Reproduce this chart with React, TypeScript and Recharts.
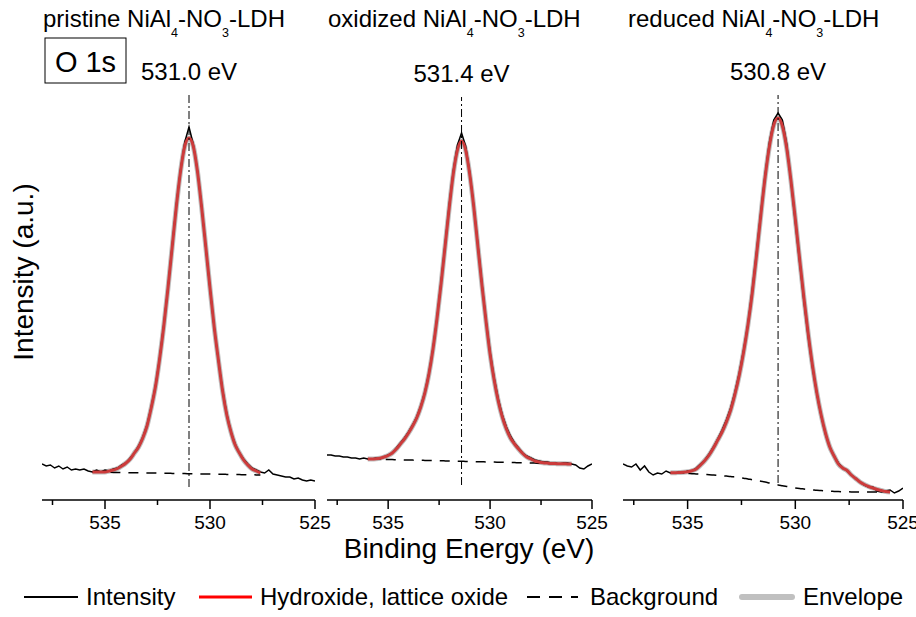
import React from 'react';
import { LineChart, Line, XAxis, YAxis, ReferenceLine } from 'recharts';

// binding energy grid (eV), shared by all three spectra
const energy = [
  538, 537.8, 537.6, 537.4, 537.2, 537, 536.8, 536.6, 536.4, 536.2,
  536, 535.8, 535.6, 535.4, 535.2, 535, 534.8, 534.6, 534.4, 534.2,
  534, 533.8, 533.6, 533.4, 533.2, 533, 532.8, 532.6, 532.4, 532.2,
  532, 531.8, 531.6, 531.4, 531.2, 531, 530.8, 530.6, 530.4, 530.2,
  530, 529.8, 529.6, 529.4, 529.2, 529, 528.8, 528.6, 528.4, 528.2,
  528, 527.8, 527.6, 527.4, 527.2, 527, 526.8, 526.6, 526.4, 526.2,
  526, 525.8, 525.6, 525.4, 525.2, 525
];

// pristine
const pristineRaw = [
  36, 34, 35, 32, 34, 31, 33, 30, 31, 30,
  31, 29, 28, 30, 28, 30, 29, 31, 32, 35,
  37, 42, 47, 54, 63, 75, 93, 114, 142, 176,
  213, 255, 296, 331, 358, 373, 356, 330, 294, 252,
  211, 172, 139, 110, 86, 68, 56, 47, 41, 36,
  32, 30, 28, 27, 30, 26, 25, 24, 23, 23,
  21, 22, 20, 19, 20, 19
];
const pristineFitStart = 12;
const pristineFit = [
  28, 28, 28, 28, 29, 30, 31.5, 34,
  37, 41, 47, 53, 62, 74, 92, 113, 141, 174,
  212, 253, 294, 329, 354, 362, 354, 329, 293, 253,
  212, 173, 140, 109, 85, 68, 55, 47, 40, 35,
  31, 29, 27
];
const pristineBg = [
  28, 27.9, 27.9, 27.8, 27.7, 27.6, 27.6, 27.5,
  27.4, 27.3, 27.3, 27.2, 27.1, 27, 27, 26.9, 26.8, 26.7,
  26.7, 26.6, 26.5, 26.4, 26.4, 26.3, 26.2, 26.1, 26.1, 26,
  25.9, 25.8, 25.8, 25.7, 25.6, 25.5, 25.5, 25.4, 25.3, 25.2,
  25.2, 25.1, 25
];

// oxidized
const oxidizedRaw = [
  45, 45, 44, 44, 43, 43, 42, 42, 41, 42,
  41, 41, 42, 41, 43, 45, 47, 52, 57, 62,
  68, 75, 83, 94, 108, 127, 152, 183, 219, 257,
  296, 330, 355, 367, 354, 328, 294, 256, 217, 180,
  148, 122, 101, 85, 73, 64, 57, 52, 47, 44,
  42, 40, 39, 38, 38, 37, 37, 36, 37, 37,
  36, 35, 32, 31, 34, 36
];
const oxidizedFitStart = 10;
const oxidizedFit = [
  41, 41, 41.2, 41.8, 43, 44.5, 47, 51, 56, 61,
  67, 74, 82, 93, 107, 126, 151, 182, 217, 255,
  293, 327, 350, 359, 350, 326, 293, 254, 215, 179,
  146, 120, 99, 83, 71, 62, 56, 51, 46.5, 43,
  41, 39, 38, 37.3, 36.9, 36.5, 36.4, 36.3, 36.2, 36.1,
  36
];
const oxidizedBg = [
  41, 40.9, 40.8, 40.7, 40.6, 40.5, 40.4, 40.3, 40.2, 40.1,
  40, 39.9, 39.8, 39.7, 39.6, 39.5, 39.4, 39.3, 39.2, 39.1,
  39, 38.9, 38.8, 38.7, 38.6, 38.5, 38.4, 38.3, 38.2, 38.1,
  38, 37.9, 37.8, 37.7, 37.6, 37.5, 37.4, 37.3, 37.2, 37.1,
  37, 36.9, 36.8, 36.7, 36.6, 36.5, 36.4, 36.3, 36.2, 36.1,
  36
];

// reduced
const reducedRaw = [
  36, 34, 33, 36, 30, 34, 28, 25, 27, 26,
  29, 27, 27, 28, 27, 29, 29, 32, 36, 40,
  46, 53, 61, 70, 80, 92, 108, 127, 150, 176,
  210, 248, 288, 326, 358, 380, 387, 380, 356, 318,
  278, 238, 199, 163, 132, 106, 84, 66, 53, 44,
  37, 32, 29, 25, 22, 18, 15, 13, 13, 9,
  8, 9, 10, 7, 9, 12
];
const reducedFitStart = 11;
const reducedFit = [
  27.2, 27.2, 27.5, 27.8, 28.3, 29.2, 31, 35, 39.5,
  45, 52, 60, 68, 78, 90, 106, 125, 148, 175,
  207, 245, 285, 323, 354, 375, 382, 374, 352, 319,
  281, 241, 202, 166, 134, 107, 85, 67, 53, 44,
  36, 32, 29.5, 25, 21.5, 18, 15.5, 13.5, 12, 10.5,
  9.5, 8.5, 8
];
const reducedBg = [
  27.2, 27.1, 27, 26.8, 26.5, 26.3, 26, 25.8, 25.5,
  25.3, 25, 24.7, 24.3, 23.9, 23.5, 23, 22.5, 21.8, 21,
  20.3, 19.5, 18.8, 18, 17, 16, 15.1, 14.3, 13.5, 12.8,
  12.1, 11.5, 11, 10.5, 10.1, 9.7, 9.4, 9.1, 8.8, 8.6,
  8.4, 8.3, 8.2, 8.1, 8.1, 8, 8, 8, 8, 8,
  8, 8, 8
];

const sampleNames = ['pristine', 'oxidized', 'reduced'];
const peakEnergies = [531.0, 531.4, 530.8];
const energyTicks = [537.5, 535, 532.5, 530, 527.5, 525];
const legendItems = ['Intensity', 'Hydroxide, lattice oxide', 'Background', 'Envelope'];

const FONT = '"Liberation Sans", Arial, Helvetica, sans-serif';

const buildRows = (raw: number[], fit: number[], bg: number[], start: number) =>
  energy.map((e, i) => {
    const k = i - start;
    const inFit = k >= 0 && k < fit.length;
    return {
      e,
      raw: raw[i],
      fit: inFit ? fit[k] : null,
      env: inFit ? fit[k] : null,
      bg: k >= 0 && k < bg.length ? bg[k] : null
    };
  });

const panels = [
  {
    rows: buildRows(pristineRaw, pristineFit, pristineBg, pristineFitStart),
    left: 0, width: 335, margin: { top: 40, right: 20, bottom: 0, left: 42 },
    showY: true, titleX: 43, vline: [13, 405]
  },
  {
    rows: buildRows(oxidizedRaw, oxidizedFit, oxidizedBg, oxidizedFitStart),
    left: 312, width: 300, margin: { top: 40, right: 20, bottom: 0, left: 15 },
    showY: false, titleX: 328, vline: [15, 403]
  },
  {
    rows: buildRows(reducedRaw, reducedFit, reducedBg, reducedFitStart),
    left: 608, width: 308, margin: { top: 40, right: 13, bottom: 0, left: 15 },
    showY: false, titleX: 628, vline: [17, 405]
  }
];

const EnergyTick = (props: any) => {
  const { x, y, payload } = props;
  const major = payload.value % 5 === 0;
  return (
    <g>
      <line x1={x} x2={x} y1={y} y2={y + (major ? 9 : 5)} stroke="#000" strokeWidth={1.5} />
      {major && (
        <text x={x} y={y + 29} textAnchor="middle" fontSize={19} fontFamily={FONT} fill="#000">
          {payload.value}
        </text>
      )}
    </g>
  );
};

const App: React.FC = () => (
  <div
    style={{
      position: 'absolute', left: 0, top: 0, width: 916, height: 617,
      background: '#fff', fontFamily: FONT, overflow: 'hidden'
    }}
  >
    {panels.map((p, idx) => (
      <div key={idx} style={{ position: 'absolute', left: p.left, top: 0 }}>
        <LineChart width={p.width} height={560} data={p.rows} margin={p.margin}>
          <XAxis
            dataKey="e"
            type="number"
            domain={[525, 538]}
            reversed
            allowDataOverflow
            ticks={energyTicks}
            interval={0}
            tick={<EnergyTick />}
            tickLine={false}
            tickSize={0}
            tickMargin={0}
            height={60}
            axisLine={{ stroke: '#000', strokeWidth: 1.5 }}
          />
          <YAxis
            width={0}
            domain={[0, 460]}
            allowDataOverflow
            hide={!p.showY}
            tick={false}
            tickLine={false}
            axisLine={{ stroke: '#000', strokeWidth: 1.5 }}
          />
          <Line dataKey="env" type="monotone" stroke="#c0c0c0" strokeWidth={5} dot={false} activeDot={false} isAnimationActive={false} />
          <Line dataKey="raw" type="linear" stroke="#000" strokeWidth={1.5} dot={false} activeDot={false} isAnimationActive={false} />
          <Line dataKey="bg" type="monotone" stroke="#000" strokeWidth={1.5} strokeDasharray="10 8" dot={false} activeDot={false} isAnimationActive={false} />
          <Line dataKey="fit" type="monotone" stroke="#cc3b3b" strokeWidth={3} dot={false} activeDot={false} isAnimationActive={false} />
          <ReferenceLine
            segment={[{ x: peakEnergies[idx], y: p.vline[0] }, { x: peakEnergies[idx], y: p.vline[1] }]}
            stroke="#000"
            strokeWidth={1}
            strokeDasharray="8 3 2 3"
            label={{
              value: `${peakEnergies[idx].toFixed(1)} eV`,
              position: 'top',
              offset: 15,
              fontSize: 24,
              fill: '#000',
              fontFamily: FONT
            }}
          />
        </LineChart>
      </div>
    ))}

    <svg
      width={916}
      height={617}
      style={{ position: 'absolute', left: 0, top: 0, pointerEvents: 'none' }}
      fontFamily={FONT}
    >
      {panels.map((p, idx) => (
        <text key={idx} x={p.titleX} y={27} fontSize={24} fill="#000">
          {sampleNames[idx]} NiAl
          <tspan fontSize={12.5} dy={10}>4</tspan>
          <tspan dy={-10}>-NO</tspan>
          <tspan fontSize={12.5} dy={10}>3</tspan>
          <tspan dy={-10}>-LDH</tspan>
        </text>
      ))}

      <rect x={45} y={38} width={81} height={45} fill="#fff" stroke="#000" strokeWidth={1} />
      <text x={85.5} y={72} fontSize={29} textAnchor="middle" fill="#000">O 1s</text>

      <text x={33} y={272} fontSize={28} textAnchor="middle" fill="#000" transform="rotate(-90 33 272)">
        Intensity (a.u.)
      </text>
      <text x={469} y={558} fontSize={28} textAnchor="middle" fill="#000">
        Binding Energy (eV)
      </text>

      <line x1={24} x2={78} y1={597} y2={597} stroke="#000" strokeWidth={2} />
      <text x={86} y={605} fontSize={24} fill="#000">{legendItems[0]}</text>
      <line x1={199} x2={252} y1={597} y2={597} stroke="#ff0000" strokeWidth={3} />
      <text x={260} y={605} fontSize={24} fill="#000">{legendItems[1]}</text>
      <line x1={527} x2={578} y1={597} y2={597} stroke="#000" strokeWidth={2} strokeDasharray="13 9" />
      <text x={590} y={605} fontSize={24} fill="#000">{legendItems[2]}</text>
      <line x1={742} x2={792} y1={597} y2={597} stroke="#c0c0c0" strokeWidth={6} strokeLinecap="round" />
      <text x={803} y={605} fontSize={24} fill="#000">{legendItems[3]}</text>
    </svg>
  </div>
);

export default App;
